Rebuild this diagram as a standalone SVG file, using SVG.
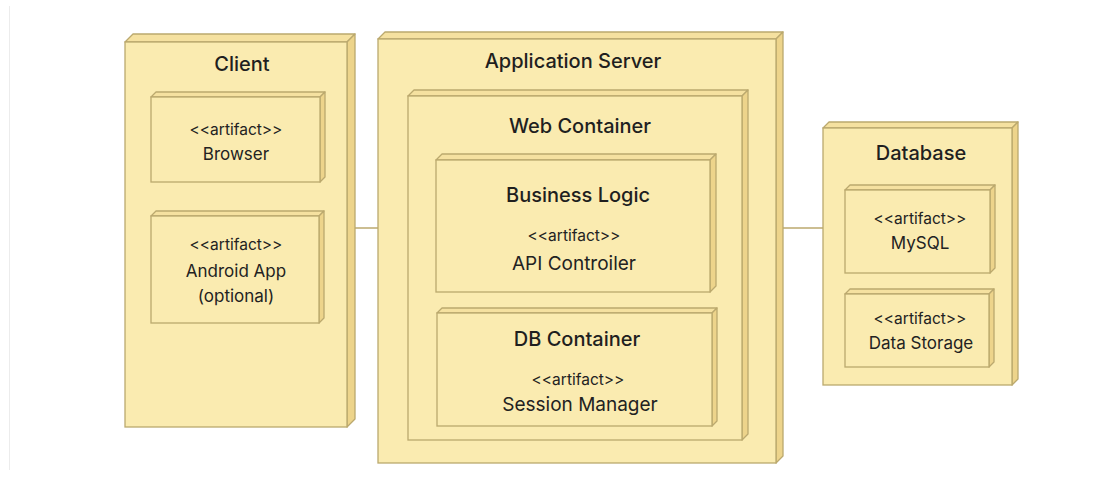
<svg xmlns="http://www.w3.org/2000/svg" width="1118" height="484" viewBox="0 0 1118 484">
<style>
.front{fill:#FAEBB0;stroke:#BBA96E;stroke-width:1.3}
.top{fill:#F5E1A0;stroke:#BBA96E;stroke-width:1.3;stroke-linejoin:round}
.side{fill:#EDD48B;stroke:#BBA96E;stroke-width:1.3;stroke-linejoin:round}
.title{font-family:Inter,"Liberation Sans",sans-serif;font-size:20px;font-weight:500;fill:#1f1f1f;text-anchor:middle}
.st{font-family:Inter,"Liberation Sans",sans-serif;font-size:15.5px;fill:#222;text-anchor:middle}
.nm{font-family:Inter,"Liberation Sans",sans-serif;font-size:17px;fill:#222;text-anchor:middle}
.big{font-family:Inter,"Liberation Sans",sans-serif;font-size:19px;fill:#222;text-anchor:middle}
.conn{stroke:#BBA96E;stroke-width:1.5;fill:none}
</style>
<rect width="1118" height="484" fill="#ffffff"/>
<line x1="9.5" y1="6" x2="9.5" y2="470" stroke="#ececec" stroke-width="1"/>
<g id="connectors">
<line class="conn" x1="355" y1="228" x2="378" y2="228"/>
<line class="conn" x1="783" y1="228" x2="823" y2="228"/>
</g>
<g id="client">
<polygon class="top" points="125,42 133,34 355,34 347,42"/>
<polygon class="side" points="347,42 355,34 355,419 347,427"/>
<rect class="front" x="125" y="42" width="222" height="385"/>
<text class="title" x="242" y="71">Client</text>
</g>
<g id="browser">
<polygon class="top" points="151,97 156,92 325,92 320,97"/>
<polygon class="side" points="320,97 325,92 325,177 320,182"/>
<rect class="front" x="151" y="97" width="169" height="85"/>
<text class="st" x="236" y="135">&lt;&lt;artifact&gt;&gt;</text>
<text class="nm" x="236" y="160">Browser</text>
</g>
<g id="android">
<polygon class="top" points="151,216 156,211 324,211 319,216"/>
<polygon class="side" points="319,216 324,211 324,318 319,323"/>
<rect class="front" x="151" y="216" width="168" height="107"/>
<text class="st" x="236" y="250">&lt;&lt;artifact&gt;&gt;</text>
<text class="nm" x="236" y="277">Android App</text>
<text class="nm" x="236" y="302">(optional)</text>
</g>
<g id="app-server">
<polygon class="top" points="378,39 385,32 783,32 776,39"/>
<polygon class="side" points="776,39 783,32 783,456 776,463"/>
<rect class="front" x="378" y="39" width="398" height="424"/>
<text class="title" x="573" y="68">Application Server</text>
</g>
<g id="web-container">
<polygon class="top" points="408,96 414,90 748,90 742,96"/>
<polygon class="side" points="742,96 748,90 748,434 742,440"/>
<rect class="front" x="408" y="96" width="334" height="344"/>
<text class="title" x="580" y="133">Web Container</text>
</g>
<g id="business-logic">
<polygon class="top" points="436,160 442,154 716,154 710,160"/>
<polygon class="side" points="710,160 716,154 716,286 710,292"/>
<rect class="front" x="436" y="160" width="274" height="132"/>
<text class="title" x="578" y="202">Business Logic</text>
<text class="st" x="574" y="241">&lt;&lt;artifact&gt;&gt;</text>
<text class="big" x="574" y="270">API Controiler</text>
</g>
<g id="db-container">
<polygon class="top" points="437,313 442,308 717,308 712,313"/>
<polygon class="side" points="712,313 717,308 717,421 712,426"/>
<rect class="front" x="437" y="313" width="275" height="113"/>
<text class="title" x="577" y="346">DB Container</text>
<text class="st" x="578" y="385">&lt;&lt;artifact&gt;&gt;</text>
<text class="big" x="580" y="411">Session Manager</text>
</g>
<g id="database">
<polygon class="top" points="823,128 829,122 1018,122 1012,128"/>
<polygon class="side" points="1012,128 1018,122 1018,379 1012,385"/>
<rect class="front" x="823" y="128" width="189" height="257"/>
<text class="title" x="921" y="160">Database</text>
</g>
<g id="mysql">
<polygon class="top" points="845,190 850,185 995,185 990,190"/>
<polygon class="side" points="990,190 995,185 995,268 990,273"/>
<rect class="front" x="845" y="190" width="145" height="83"/>
<text class="st" x="920" y="224">&lt;&lt;artifact&gt;&gt;</text>
<text class="nm" x="920" y="249">MySQL</text>
</g>
<g id="data-storage">
<polygon class="top" points="845,294 850,289 994,289 989,294"/>
<polygon class="side" points="989,294 994,289 994,362 989,367"/>
<rect class="front" x="845" y="294" width="144" height="73"/>
<text class="st" x="920" y="324">&lt;&lt;artifact&gt;&gt;</text>
<text class="nm" x="921" y="349">Data Storage</text>
</g>
</svg>
